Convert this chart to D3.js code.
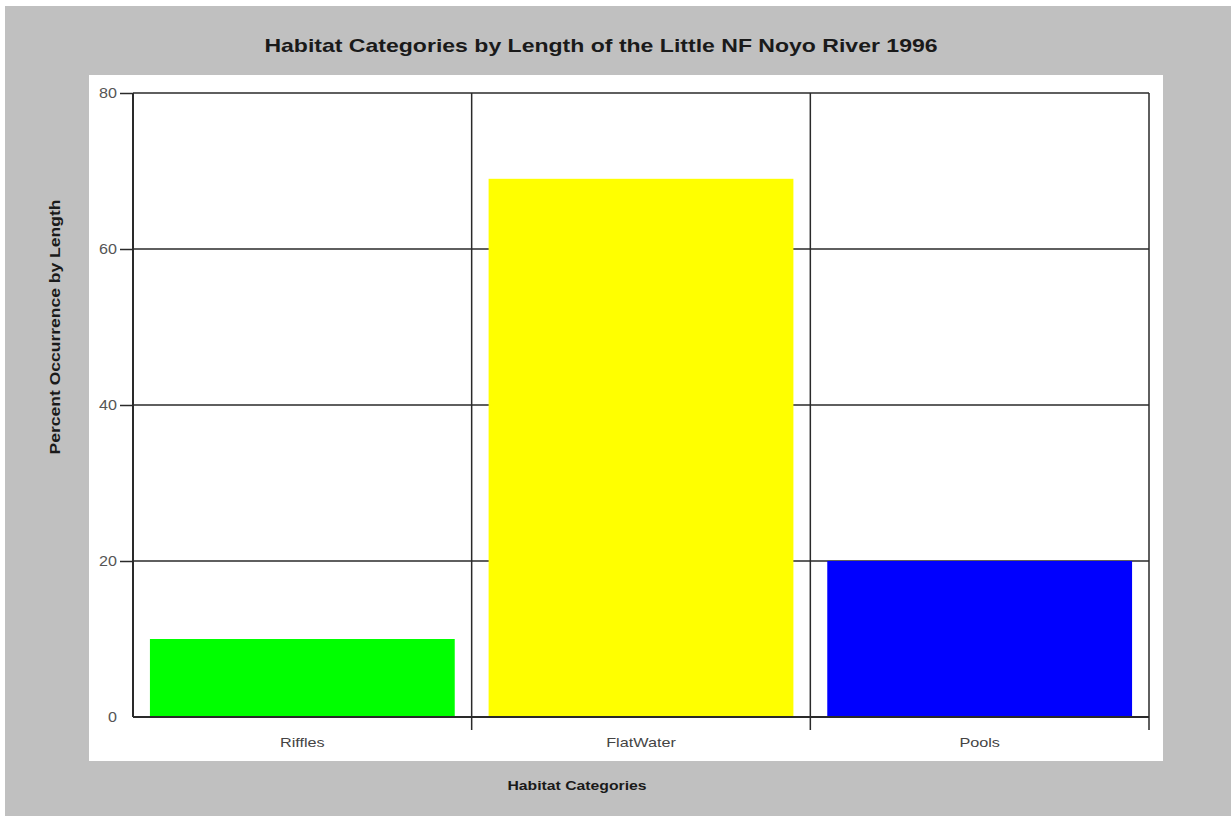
<!DOCTYPE html>
<html>
<head>
<meta charset="utf-8">
<script src="https://cdn.jsdelivr.net/npm/d3@7"></script>
<style>
  html, body { margin: 0; padding: 0; background: #ffffff; }
  svg { display: block; }
  text { font-family: "Liberation Sans", Arial, sans-serif; }
</style>
</head>
<body>
<svg id="chart" width="1231" height="816"></svg>
<script>
// Habitat categories and their percent occurrence by length
const categories = ["Riffles", "FlatWater", "Pools"];
const percents = [10, 69, 20];
const barColors = ["#00ff00", "#ffff00", "#0000ff"];
const yTicks = [0, 20, 40, 60, 80];

const titleText = "Habitat Categories by Length of the Little NF Noyo River 1996";
const xTitle = "Habitat Categories";
const yTitle = "Percent Occurrence by Length";

const svg = d3.select("#chart");

// widen glyphs horizontally by a factor, keeping the anchor point
function widen(sel, factor) {
  sel.each(function () {
    const w = this.getComputedTextLength();
    d3.select(this)
      .attr("textLength", w * factor)
      .attr("lengthAdjust", "spacingAndGlyphs");
  });
}

// grey backdrop and white plotting panel
svg.append("rect").attr("x", 5).attr("y", 6).attr("width", 1226).attr("height", 810).attr("fill", "#c0c0c0");
svg.append("rect").attr("x", 89).attr("y", 75).attr("width", 1074).attr("height", 686).attr("fill", "#ffffff");

const plot = { left: 133, right: 1149, top: 93, bottom: 717 };

const x = d3.scaleBand()
  .domain(categories)
  .range([plot.left, plot.right])
  .paddingInner(0.1)
  .paddingOuter(0.05);

const y = d3.scaleLinear()
  .domain([0, 80])
  .range([plot.bottom, plot.top]);

const step = x.step();
const lineColor = "#2a2a2a";

// horizontal grid lines
svg.append("g")
  .selectAll("line")
  .data(yTicks.filter(t => t > 0))
  .join("line")
  .attr("x1", plot.left)
  .attr("x2", plot.right)
  .attr("y1", d => y(d))
  .attr("y2", d => y(d))
  .attr("stroke", lineColor)
  .attr("stroke-width", 1.5);

// bars
svg.append("g")
  .selectAll("rect")
  .data(categories)
  .join("rect")
  .attr("x", d => x(d))
  .attr("width", x.bandwidth())
  .attr("y", (d, i) => y(percents[i]))
  .attr("height", (d, i) => y(0) - y(percents[i]))
  .attr("fill", (d, i) => barColors[i]);

// category separators, extending below the baseline as ticks
const separators = categories.map(c => x(c) + x.bandwidth() + step * x.paddingInner() / 2);
svg.append("g")
  .selectAll("line")
  .data(separators)
  .join("line")
  .attr("x1", d => d)
  .attr("x2", d => d)
  .attr("y1", plot.top)
  .attr("y2", plot.bottom + 13)
  .attr("stroke", lineColor)
  .attr("stroke-width", 1.5);

// left axis line and baseline
svg.append("line")
  .attr("x1", plot.left).attr("x2", plot.left)
  .attr("y1", plot.top).attr("y2", plot.bottom)
  .attr("stroke", lineColor).attr("stroke-width", 2);
svg.append("line")
  .attr("x1", plot.left).attr("x2", plot.right)
  .attr("y1", plot.bottom).attr("y2", plot.bottom)
  .attr("stroke", lineColor).attr("stroke-width", 2);

// y axis ticks and labels
const yAxis = d3.axisLeft(y)
  .tickValues(yTicks)
  .tickSize(13)
  .tickSizeOuter(0)
  .tickPadding(3);
const gy = svg.append("g")
  .attr("transform", `translate(${plot.left},0)`)
  .call(yAxis);
gy.select(".domain").remove();
gy.selectAll(".tick line")
  .attr("stroke", lineColor)
  .attr("stroke-width", 1.5)
  .attr("display", d => d === 0 ? "none" : null);
gy.selectAll(".tick text")
  .attr("font-size", 14)
  .attr("fill", "#555555")
  .attr("font-family", "'Liberation Sans', Arial, sans-serif")
  .call(widen, 1.15);

// category labels
const gx = svg.append("g")
  .attr("transform", `translate(0,${plot.bottom})`)
  .call(d3.axisBottom(x).tickSize(0).tickPadding(20));
gx.select(".domain").remove();
gx.selectAll(".tick text")
  .attr("font-size", 13.5)
  .attr("fill", "#444444")
  .attr("font-family", "'Liberation Sans', Arial, sans-serif")
  .call(widen, 1.2);

// titles
svg.append("text")
  .attr("x", 601)
  .attr("y", 52)
  .attr("text-anchor", "middle")
  .attr("font-size", 18.5)
  .attr("font-weight", "bold")
  .attr("fill", "#1a1a1a")
  .text(titleText)
  .call(widen, 1.245);

svg.append("text")
  .attr("x", 577)
  .attr("y", 790)
  .attr("text-anchor", "middle")
  .attr("font-size", 12.5)
  .attr("font-weight", "bold")
  .attr("fill", "#1a1a1a")
  .text(xTitle)
  .call(widen, 1.26);

svg.append("text")
  .attr("transform", "translate(60,327) rotate(-90)")
  .attr("text-anchor", "middle")
  .attr("font-size", 14)
  .attr("font-weight", "bold")
  .attr("fill", "#1a1a1a")
  .text(yTitle)
  .call(widen, 1.25);
</script>
</body>
</html>
